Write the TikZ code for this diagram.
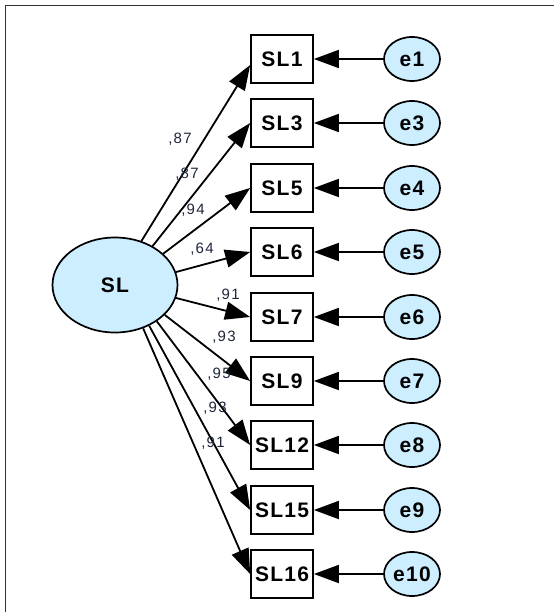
\documentclass[tikz,border=0pt]{standalone}
\usepackage{fontspec}
\setmainfont{Liberation Sans}
\newfontfamily\boxfont[LetterSpace=6]{Liberation Sans}
\newfontfamily\lblfont[LetterSpace=8]{Liberation Sans}
\usetikzlibrary{arrows.meta,shapes.geometric}
\definecolor{lb}{RGB}{204,238,255}
\definecolor{labc}{RGB}{30,38,60}
\definecolor{framec}{RGB}{50,50,50}
\begin{document}
\begin{tikzpicture}[x=1pt,y=-1pt,
 obs/.style={draw, line width=1.7pt, fill=white, minimum width=62pt, minimum height=48pt, inner sep=0pt, font=\boxfont\fontsize{21}{21}\selectfont\bfseries},
 err/.style={ellipse, draw, fill=lb, line width=1.7pt, minimum width=56pt, minimum height=44pt, inner sep=0pt, font=\boxfont\fontsize{21}{21}\selectfont\bfseries},
 lat/.style={ellipse, draw, fill=lb, line width=1.7pt, minimum width=125pt, minimum height=95pt, inner sep=0pt, font=\boxfont\fontsize{21}{21}\selectfont\bfseries},
 arr/.style={-{Triangle[length=25pt,width=18pt]}, line width=1.8pt},
 lbl/.style={text=labc, inner sep=0pt, font=\lblfont\fontsize{15}{15}\selectfont}
]
\useasboundingbox (0,0) rectangle (554,612);
\draw[framec, line width=1.8pt] (5.5,612) -- (5.5,5.5) -- (554,5.5);

\node[lat] (SL) at (115,285) {SL};

\foreach \n/\e/\y in {1/1/59, 3/3/123, 5/4/188, 6/5/252, 7/6/317, 9/7/381, 12/8/445, 15/9/510, 16/10/574}{
  \node[obs] (SL\n) at (282,\y) {SL\n};
  \node[err] (e\e) at (412,\y) {e\e};
  \draw[arr] (e\e.west) -- (SL\n.east);
}

\draw[arr] (SL.59) -- ([yshift=-6pt]SL1.west);
\draw[arr] (SL.46) -- (SL3.west);
\draw[arr] (SL.33) -- (SL5.west);
\draw[arr] (SL.12) -- (SL6.west);
\draw[arr] (SL.-12) -- (SL7.west);
\draw[arr] (SL.-31) -- (SL9.west);
\draw[arr] (SL.-41) -- (SL12.west);
\draw[arr] (SL.-50) -- (SL15.west);
\draw[arr] (SL.-57) -- (SL16.west);

\node[lbl] (l1) at (180,139) {,87};
\node[lbl] (l3) at (187,174) {,87};
\node[lbl] (l5) at (193,210) {,94};
\node[lbl] (l6) at (202,249) {,64};
\node[lbl] (l7) at (228,295) {,91};
\node[lbl] (l9) at (224,337) {,93};
\node[lbl] (l12) at (219,374) {,95};
\node[lbl] (l15) at (215,408) {,93};
\node[lbl] (l16) at (213,443) {,91};
\end{tikzpicture}
\end{document}
